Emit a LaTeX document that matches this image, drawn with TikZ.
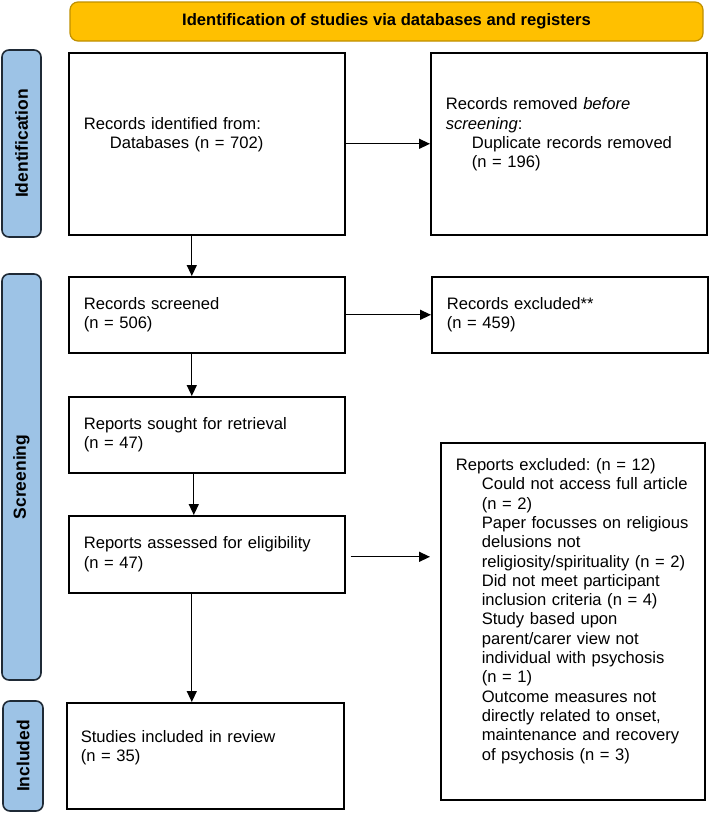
\documentclass[tikz,border=0pt]{standalone}
\usepackage{fontspec}
\setmainfont{Liberation Sans}
\usetikzlibrary{arrows.meta}
\definecolor{hdrfill}{HTML}{FFC000}
\definecolor{hdrline}{HTML}{BF9000}
\definecolor{sidefill}{HTML}{9DC3E6}
\definecolor{sideline}{HTML}{1F2A36}
\frenchspacing
\begin{document}
\begin{tikzpicture}[x=1pt,y=-1pt,
  every node/.style={font=\fontsize{16.6}{19.3}\selectfont},
  box/.style={draw=black,line width=1.6pt,rectangle,inner xsep=15pt,inner ysep=0pt,align=left,anchor=north west},
  sidebar/.style={draw=sideline,fill=sidefill,line width=1.6pt,rounded corners=7pt,rotate=90,inner sep=0pt,font=\fontsize{17.5}{20}\selectfont\bfseries},
  header/.style={draw=hdrline,fill=hdrfill,line width=1.2pt,rounded corners=8pt,inner sep=0pt,font=\fontsize{16.6}{20}\selectfont\bfseries},
  arr/.style={line width=1.3pt,-{Triangle[length=11pt,width=10pt]}}
]
\useasboundingbox (0,0) rectangle (709,814);

% header
\node[header,minimum width=633pt,minimum height=39pt] (hd) at (386.5,21.5) {Identification of studies via databases and registers};

% side bars
\node[sidebar,minimum width=187pt,minimum height=39pt] (sI) at (21.5,143.5) {Identification};
\node[sidebar,minimum width=406pt,minimum height=39pt] (sS) at (21.5,477) {Screening};
\node[sidebar,minimum width=110pt,minimum height=40pt] (sN) at (23,756) {Included};

% boxes
\node[box,text width=246pt,minimum height=182pt] (b1) at (68,52)
  {Records identified from:\\\hspace*{26pt}Databases (n = 702)\rule[-22pt]{0pt}{22pt}};
\node[box,text width=246pt,minimum height=182pt] (b2) at (430,52)
  {Records removed \textit{before}\\\textit{screening}:\\\hspace*{26pt}Duplicate records removed\\\hspace*{26pt}(n = 196)\rule[-22pt]{0pt}{22pt}};
\node[box,text width=246pt,minimum height=76pt] (b3) at (68,276)
  {Records screened\\(n = 506)};
\node[box,text width=246pt,minimum height=76pt] (b4) at (431,276)
  {Records excluded**\\(n = 459)};
\node[box,text width=246pt,minimum height=76pt] (b5) at (68,396)
  {Reports sought for retrieval\\(n = 47)};
\node[box,text width=246pt,minimum height=77pt] (b6) at (68,515)
  {Reports assessed for eligibility\\(n = 47)};
\node[box,text width=234pt,minimum height=357pt] (b7) at (440,442)
  {Reports excluded: (n = 12)\\
   \hspace*{26pt}Could not access full article\\
   \hspace*{26pt}(n = 2)\\
   \hspace*{26pt}Paper focusses on religious\\
   \hspace*{26pt}delusions not\\
   \hspace*{26pt}religiosity/spirituality (n = 2)\\
   \hspace*{26pt}Did not meet participant\\
   \hspace*{26pt}inclusion criteria (n = 4)\\
   \hspace*{26pt}Study based upon\\
   \hspace*{26pt}parent/carer view not\\
   \hspace*{26pt}individual with psychosis\\
   \hspace*{26pt}(n = 1)\\
   \hspace*{26pt}Outcome measures not\\
   \hspace*{26pt}directly related to onset,\\
   \hspace*{26pt}maintenance and recovery\\
   \hspace*{26pt}of psychosis (n = 3)\rule[-24pt]{0pt}{24pt}};
\node[box,inner xsep=14pt,text width=249pt,minimum height=106pt] (b8) at (66,702)
  {Studies included in review\\(n = 35)\rule[-20pt]{0pt}{20pt}};

% connectors
\draw[arr] (b1.east) -- (b2.west);
\draw[arr] ([xshift=-15pt]b1.south) -- ([xshift=-15pt]b3.north);
\draw[arr] (b3.east) -- (b4.west);
\draw[arr] ([xshift=-15pt]b3.south) -- ([xshift=-15pt]b5.north);
\draw[arr] ([xshift=-13pt]b5.south) -- ([xshift=-13pt]b6.north);
\draw[arr] ([xshift=5pt,yshift=-2.5pt]b6.east) -- ([xshift=-10pt,yshift=-2.5pt]b6.east -| b7.west);
\draw[arr] ([xshift=-15pt]b6.south) -- ([xshift=-15pt]b8.north -| b6.south);
\end{tikzpicture}
\end{document}
